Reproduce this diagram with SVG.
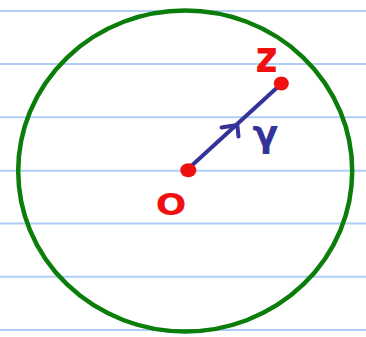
<svg xmlns="http://www.w3.org/2000/svg" width="366" height="337" viewBox="0 0 366 337">
<style>
.rule{stroke:#aecdf7;stroke-width:2;fill:none}
.lbl-red{fill:#f01010;font-family:"DejaVu Sans",sans-serif;font-weight:bold}
.lbl-blue{fill:#333399;font-family:"DejaVu Sans",sans-serif;font-weight:bold}
.dot{fill:#f01010}
</style>
<rect width="366" height="337" fill="#ffffff"/>
<g id="paper">
<line class="rule" x1="0" y1="11" x2="366" y2="11"/>
<line class="rule" x1="0" y1="64" x2="366" y2="64"/>
<line class="rule" x1="0" y1="117.3" x2="366" y2="117.3"/>
<line class="rule" x1="0" y1="170.7" x2="366" y2="170.7"/>
<line class="rule" x1="0" y1="223.5" x2="366" y2="223.5"/>
<line class="rule" x1="0" y1="276.7" x2="366" y2="276.7"/>
<line class="rule" x1="0" y1="330" x2="366" y2="330"/>
</g>
<g id="disk">
<ellipse cx="185.2" cy="171" rx="167" ry="160.5" fill="none" stroke="#0a7d0a" stroke-width="4.5"/>
</g>
<g id="connectors">
<line x1="188" y1="169" x2="281" y2="84" stroke="#333399" stroke-width="4" stroke-linecap="round"/>
<path d="M221.5,127.5 L237.3,125 L238.5,136.5" fill="none" stroke="#333399" stroke-width="4" stroke-linecap="round" stroke-linejoin="round"/>
</g>
<g id="node-O">
<ellipse class="dot" cx="188.3" cy="170.3" rx="8" ry="7"/>
<text class="lbl-red" x="171" y="215" font-size="30" text-anchor="middle" transform="translate(171 0) scale(1.2 1) translate(-171 0)">O</text>
</g>
<g id="node-z">
<ellipse class="dot" cx="281.3" cy="83.5" rx="7.5" ry="7"/>
<text class="lbl-red" x="266.5" y="72" font-size="38" text-anchor="middle" transform="translate(0 72) scale(1 1.15) translate(0 -72)">z</text>
</g>
<g id="label-gamma">
<text class="lbl-blue" x="265.5" y="146" font-size="38" text-anchor="middle">γ</text>
</g>
</svg>
